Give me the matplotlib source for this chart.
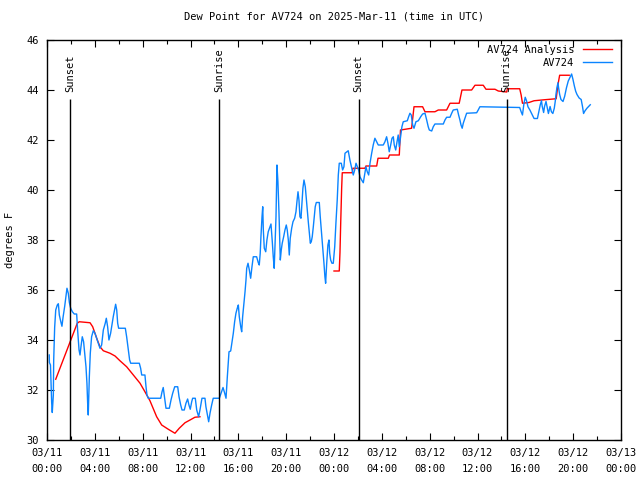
import numpy as np
import pandas as pd
import matplotlib
matplotlib.use("Agg")
import matplotlib.pyplot as plt
import matplotlib.dates as mdates

plt.rcParams['font.family'] = ['DejaVu Sans Mono']

title = "Dew Point for AV724 on 2025-Mar-11 (time in UTC)"
ylabel = "degrees F"
start = pd.Timestamp("2025-03-11 00:00")

# Observed series (hours since 03/11 00:00 UTC, degrees F)
obs_hours = [0.19, 0.20, 0.29, 0.39, 0.44, 0.53, 0.56, 0.64, 0.73, 0.86, 0.95, 1.03, 1.17, 1.25, 1.34,
             1.48, 1.59, 1.67, 1.78, 1.87, 1.98, 2.12, 2.28, 2.48, 2.56, 2.68, 2.76, 2.84, 2.95, 3.06,
             3.15, 3.26, 3.34, 3.40, 3.45, 3.54, 3.62, 3.73, 3.87, 4.01, 4.15, 4.29, 4.43, 4.57, 4.71,
             4.87, 4.96, 5.07, 5.18, 5.32, 5.43, 5.54, 5.66, 5.74, 5.83, 5.91, 5.99, 6.55, 6.66, 6.80,
             6.91, 7.00, 7.72, 7.83, 7.92, 8.19, 8.28, 8.36, 8.47, 9.51, 9.62, 9.72, 9.84, 9.95, 10.23,
             10.37, 10.51, 10.68, 10.93, 11.04, 11.18, 11.29, 11.48, 11.62, 11.76, 11.87, 11.98, 12.10,
             12.18, 12.40, 12.52, 12.68, 12.79, 12.96, 13.21, 13.29, 13.44, 13.52, 13.63, 13.77, 13.90,
             14.41, 14.55, 14.72, 14.86, 14.97, 15.08, 15.22, 15.36, 15.58, 15.69, 15.80, 15.91, 16.00,
             16.08, 16.20, 16.28, 16.36, 16.47, 16.56, 16.64, 16.70, 16.81, 16.92, 17.03, 17.14, 17.25,
             17.53, 17.67, 17.75, 17.83, 17.89, 17.98, 18.04, 18.09, 18.17, 18.29, 18.39, 18.50, 18.65,
             18.73, 18.84, 18.92, 19.00, 19.09, 19.15, 19.23, 19.31, 19.40, 19.46, 19.51, 19.59, 19.67,
             19.79, 19.90, 20.01, 20.09, 20.18, 20.26, 20.34, 20.46, 20.57, 20.71, 20.82, 20.90, 20.99,
             21.07, 21.15, 21.24, 21.32, 21.40, 21.49, 21.60, 21.68, 21.76, 21.85, 21.93, 22.02, 22.10,
             22.18, 22.27, 22.35, 22.43, 22.52, 22.77, 22.85, 22.94, 23.05, 23.16, 23.24, 23.30, 23.39,
             23.49, 23.58, 23.64, 23.72, 23.83, 23.94, 24.06, 24.16, 24.27, 24.36, 24.44, 24.61, 24.72,
             24.83, 24.92, 25.19, 25.33, 25.48, 25.61, 25.73, 25.84, 25.95, 26.06, 26.17, 26.31, 26.45,
             26.56, 26.67, 26.78, 26.90, 27.01, 27.15, 27.28, 27.42, 27.57, 27.70, 28.12, 28.26, 28.40,
             28.51, 28.62, 28.74, 28.85, 28.96, 29.04, 29.16, 29.26, 29.37, 29.46, 29.57, 29.68, 29.79,
             30.13, 30.24, 30.35, 30.46, 30.58, 30.69, 30.85, 31.05, 31.25, 31.41, 31.61, 31.75, 31.88,
             31.97, 32.17, 32.30, 32.44, 33.14, 33.28, 33.42, 33.70, 33.84, 33.97, 34.31, 34.42, 34.53,
             34.62, 34.72, 34.81, 34.95, 35.09, 35.93, 36.06, 36.20, 39.53, 39.65, 39.76, 39.87, 39.99,
             40.10, 40.22, 40.38, 40.56, 40.73, 41.01, 41.13, 41.25, 41.35, 41.41, 41.53, 41.61, 41.73,
             41.84, 41.93, 42.07, 42.18, 42.30, 42.42, 42.50, 42.56, 42.64, 42.73, 42.78, 42.87, 42.98,
             43.15, 43.29, 43.44, 43.59, 43.73, 43.87, 43.98, 44.10, 44.21, 44.32, 44.50, 44.67, 44.78,
             44.87, 44.98, 45.15, 45.29, 45.43]
obs_values = [33.4, 33.1, 33.0, 31.5, 31.1, 31.8, 33.2, 34.5, 35.2, 35.4, 35.45, 35.0, 34.7, 34.55, 34.9,
              35.35, 35.75, 36.07, 35.87, 35.5, 35.27, 35.13, 35.04, 35.04, 34.4, 33.6, 33.4, 33.73, 34.13, 33.93,
              33.47, 32.93, 32.27, 31.47, 31.0, 32.53, 33.47, 34.13, 34.37, 34.27, 34.07, 33.87, 33.67, 33.8, 34.4,
              34.67, 34.87, 34.53, 34.0, 34.27, 34.6, 34.93, 35.23, 35.43, 35.2, 34.67, 34.47, 34.47, 34.13, 33.6,
              33.2, 33.07, 33.07, 32.87, 32.6, 32.6, 32.13, 31.8, 31.67, 31.67, 31.93, 32.1, 31.67, 31.27, 31.27,
              31.6, 31.87, 32.13, 32.13, 31.73, 31.4, 31.2, 31.2, 31.47, 31.64, 31.4, 31.23, 31.53,
              31.67, 31.67, 31.2, 30.93, 31.2, 31.67, 31.67, 31.33, 30.93, 30.73, 31.07, 31.4, 31.67,
              31.67, 31.87, 32.1, 31.87, 31.67, 32.53, 33.53, 33.56, 34.27, 34.73, 35.07, 35.27, 35.4,
              34.93, 34.53, 34.33, 34.93, 35.47, 35.93, 36.4, 36.87, 37.07, 36.8, 36.47, 36.93, 37.33,
              37.33, 37.09, 37.0, 37.47, 38.13, 38.93, 39.33, 38.4, 37.67, 37.53, 38.0, 38.33, 38.53,
              38.64, 37.93, 37.33, 36.87, 38.13, 38.93, 41.0, 40.33, 39.07, 38.0, 37.2, 37.6, 37.87,
              38.13, 38.4, 38.6, 38.4, 38.0, 37.4, 38.07, 38.47, 38.73, 38.87, 39.13, 39.53, 39.93,
              39.6, 38.93, 38.87, 39.47, 40.07, 40.4, 40.13, 39.67, 39.2, 38.73, 38.33, 37.87, 37.93,
              38.13, 38.53, 38.93, 39.33, 39.5, 39.5, 38.93, 38.4, 37.73, 37.07, 36.53, 36.27, 37.07,
              37.8, 38.0, 37.47, 37.2, 37.07, 37.07, 37.73, 38.67, 39.6, 40.6, 41.07, 41.07, 40.8,
              40.93, 41.47, 41.57, 41.2, 40.87, 40.6, 40.8, 41.07, 40.93, 40.8, 40.53, 40.4, 40.29,
              40.6, 40.93, 40.73, 40.6, 41.07, 41.47, 41.8, 42.07, 41.93, 41.8, 41.8, 41.93, 42.13,
              41.87, 41.53, 41.8, 42.07, 42.13, 41.8, 41.6, 41.9, 42.2, 41.73, 42.13, 42.53, 42.73,
              42.77, 42.93, 43.07, 43.0, 42.6, 42.47, 42.73, 42.77, 42.93, 43.04, 43.07, 42.8, 42.53,
              42.4, 42.36, 42.53, 42.64, 42.64, 42.8, 42.91, 42.91, 43.07, 43.2, 43.23, 43.0, 42.8,
              42.6, 42.47, 42.67, 42.87, 43.07, 43.09, 43.2, 43.33, 43.3, 43.13, 43.0, 43.41, 43.71,
              43.57, 43.33, 43.2, 43.02, 42.86, 42.86, 43.13, 43.41, 43.57, 43.35, 43.1, 43.35, 43.54,
              43.27, 43.06, 43.34, 43.13, 43.06, 43.27, 43.54, 43.82, 44.09, 44.29, 44.09, 43.82, 43.62,
              43.54, 43.75, 44.09, 44.36, 44.5, 44.64, 44.43, 44.16, 43.95, 43.82, 43.68, 43.62, 43.34,
              43.06, 43.16, 43.27, 43.34, 43.41]

# Analysis series, first piece (hours, degrees F)
ana1_hours = [0.73, 2.53, 2.70, 3.60, 3.82, 4.01, 4.21, 4.43, 4.71, 5.27, 5.69, 6.10, 6.66, 7.22, 7.78,
              8.19, 8.61, 9.17, 9.59, 10.14, 10.70, 11.06, 11.54, 11.96, 12.37, 12.79]
ana1_values = [32.43, 34.67, 34.73, 34.69, 34.53, 34.27, 34.0, 33.73, 33.57, 33.47, 33.36, 33.17, 32.93, 32.6, 32.27,
               31.93, 31.57, 30.93, 30.6, 30.43, 30.27, 30.47, 30.69, 30.8, 30.91, 30.93]
# Analysis series, second piece
ana2_hours = [24.00, 24.44, 24.50, 24.56, 24.64, 24.69, 25.53, 25.58, 26.59, 26.67, 27.57, 27.68, 28.54, 28.64,
              29.46, 29.56, 30.49, 30.69, 31.41, 31.61, 32.44, 32.72, 33.42, 33.70, 34.47, 34.70, 35.51,
              35.79, 36.48, 36.71, 37.46, 37.74, 38.44, 38.50, 39.53, 39.65, 39.76, 40.30, 40.73, 41.60,
              42.58, 42.73, 42.87, 43.67]
ana2_values = [36.76, 36.76, 37.5, 38.67, 40.07, 40.69, 40.69, 40.87, 40.87, 40.96, 40.96, 41.27, 41.27, 41.4,
               41.4, 42.4, 42.47, 43.33, 43.33, 43.13, 43.13, 43.2, 43.2, 43.47, 43.47, 44.0, 44.0,
               44.19, 44.19, 44.03, 44.03, 43.96, 43.92, 44.05, 44.05, 43.8, 43.47, 43.5, 43.57, 43.61,
               43.65, 44.22, 44.59, 44.59]

# Sun events (hours)
sun_hours = [1.95, 14.42, 26.06, 38.44]
sun_labels = ["Sunset", "Sunrise", "Sunset", "Sunrise"]
sun_line_top = 43.64
sun_text_y = 43.92

xmin_h, xmax_h = 0, 48
ymin, ymax = 30, 46
FS = 7.5


def to_time(hours):
    return start + pd.to_timedelta(np.asarray(hours, dtype=float), unit="h")


fig = plt.figure(figsize=(6.4, 4.8), dpi=100)
ax = fig.add_axes([47 / 640, 1 - 440 / 480, 574 / 640, 400 / 480])

ana_t = pd.DatetimeIndex(list(to_time(ana1_hours)) + [pd.NaT] + list(to_time(ana2_hours)))
ana_v = ana1_values + [np.nan] + ana2_values

ax.plot(ana_t, ana_v, color="#ff0000", lw=1.0, label="AV724 Analysis")
ax.plot(to_time(obs_hours), obs_values, color="#0a84ff", lw=1.0, label="AV724")

for h, lab in zip(sun_hours, sun_labels):
    t = to_time([h])[0]
    ax.vlines(t, ymin, sun_line_top, color="black", lw=1.0)
    ax.text(t, sun_text_y, lab, rotation=90, ha="center", va="bottom", fontsize=FS)

ax.set_xlim(to_time([xmin_h])[0], to_time([xmax_h])[0])
ax.set_ylim(ymin, ymax)
ax.set_yticks(np.arange(30, 47, 2))
ax.xaxis.set_major_locator(mdates.HourLocator(byhour=range(0, 24, 4)))
ax.xaxis.set_minor_locator(mdates.HourLocator(byhour=range(0, 24, 2)))
ax.xaxis.set_major_formatter(mdates.DateFormatter("%m/%d\n%H:%M"))
ax.tick_params(which="both", direction="in", top=True, right=True, labelsize=FS, width=0.8)
ax.tick_params(which="major", length=5, pad=6)
ax.tick_params(which="minor", length=3)
for lab in ax.get_xticklabels():
    lab.set_linespacing(1.75)
for s in ax.spines.values():
    s.set_linewidth(1.0)

ax.set_title(title, fontsize=FS, pad=15)
ax.set_ylabel(ylabel, fontsize=FS, labelpad=8)

ax.legend(loc="upper right", bbox_to_anchor=((612 - 47) / 574, 1 - 5 / 400), frameon=False,
          markerfirst=False, fontsize=FS, handlelength=2.8, handletextpad=0.8,
          labelspacing=0.3, borderaxespad=0, borderpad=0)

fig.savefig("out.png", dpi=100)
